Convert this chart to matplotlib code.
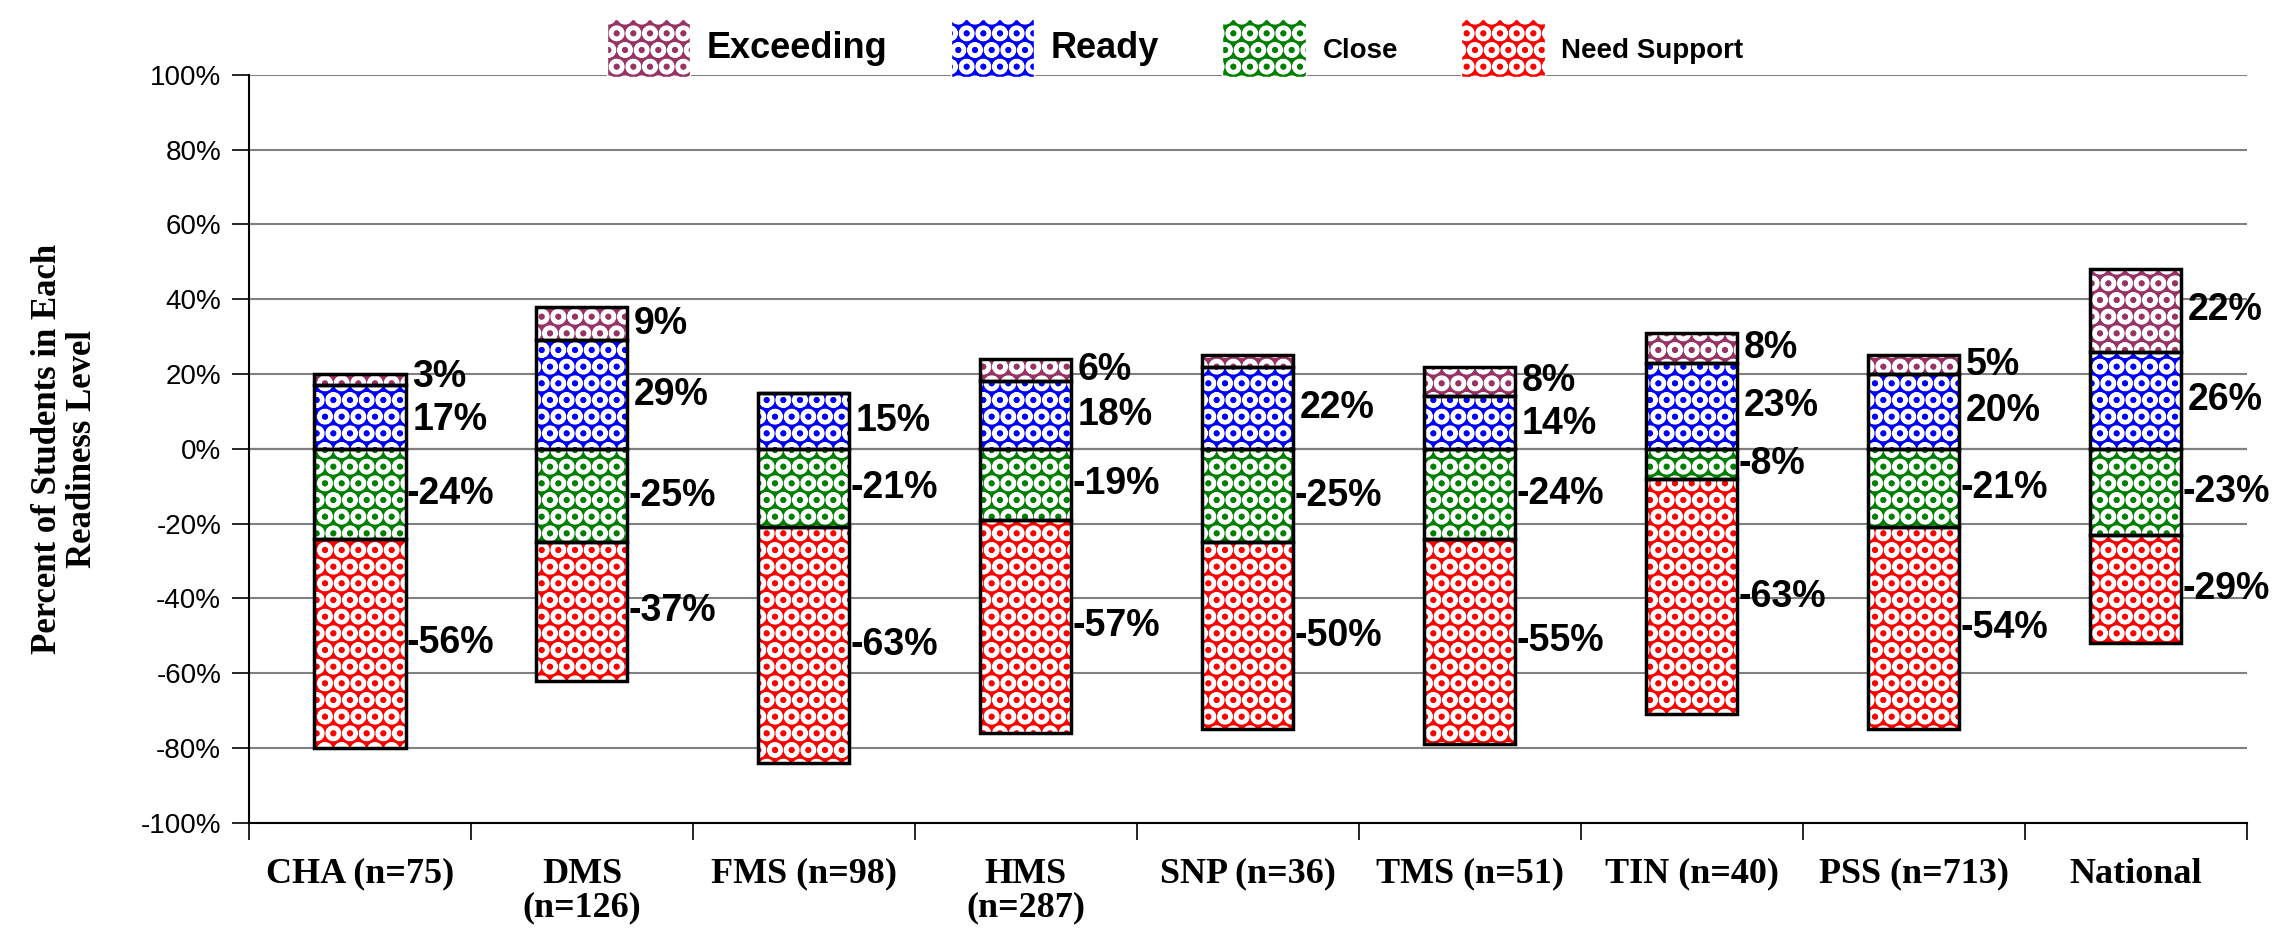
import numpy as np
import matplotlib.pyplot as plt
from matplotlib.patches import Patch

# datos
escuelas = ['CHA (n=75)', 'DMS\n(n=126)', 'FMS (n=98)', 'HMS\n(n=287)', 'SNP (n=36)',
            'TMS (n=51)', 'TIN (n=40)', 'PSS (n=713)', 'National']
exceeding = [3, 9, 0, 6, 3, 8, 8, 5, 22]
ready = [17, 29, 15, 18, 22, 14, 23, 20, 26]
close = [-24, -25, -21, -19, -25, -24, -8, -21, -23]
need_support = [-56, -37, -63, -57, -50, -55, -63, -54, -29]
# SNP no muestra etiqueta para Exceeding, FMS tampoco
mostrar_exceeding = [True, True, False, True, False, True, True, True, True]

colores = {'Exceeding': '#993366', 'Ready': '#0000ff', 'Close': '#008000', 'Need Support': '#ff0000'}
patron = 'O'
plt.rcParams['hatch.linewidth'] = 3.0

fig = plt.figure(figsize=(22.95, 9.35), dpi=100)
ax = fig.add_axes([0.1085, 0.12, 0.8705, 0.80])

x = np.arange(len(escuelas))
ancho = 0.41


def barra(x, alto, base, color):
    ax.bar(x, alto, ancho, bottom=base, color=color, edgecolor='white',
           hatch=patron, linewidth=0, zorder=2)
    ax.bar(x, alto, ancho, bottom=base, fill=False, edgecolor='black',
           linewidth=2.5, zorder=3)


ready_a = np.array(ready)
exc_a = np.array(exceeding)
close_a = np.array(close)
need_a = np.array(need_support)

barra(x, ready_a, 0, colores['Ready'])
barra(x, exc_a, ready_a, colores['Exceeding'])
barra(x, close_a, 0, colores['Close'])
barra(x, need_a, close_a, colores['Need Support'])

# etiquetas: centro del segmento, separadas si quedan muy juntas
separacion = 11.5
for i in range(len(escuelas)):
    etiquetas = []
    if mostrar_exceeding[i]:
        etiquetas.append([ready[i] + exceeding[i] / 2, exceeding[i]])
    etiquetas.append([ready[i] / 2, ready[i]])
    etiquetas.append([close[i] / 2, close[i]])
    etiquetas.append([close[i] + need_support[i] / 2, need_support[i]])
    for _ in range(20):
        for k in range(len(etiquetas) - 1):
            d = etiquetas[k][0] - etiquetas[k + 1][0]
            if d < separacion:
                m = (separacion - d) / 2
                etiquetas[k][0] += m
                etiquetas[k + 1][0] -= m
    for yy, v in etiquetas:
        dx = 0.005 if v < 0 else 0.03
        ax.text(x[i] + ancho / 2 + dx, yy, f'{v}%', ha='left', va='center',
                fontsize=27, fontweight='bold', family='Liberation Sans', zorder=4)

ax.set_xlim(-0.5, len(escuelas) - 0.5)
ax.set_ylim(-100, 100)
ax.set_yticks(np.arange(-100, 101, 20))
ax.set_yticklabels([f'{v}%' for v in range(-100, 101, 20)], family='Liberation Sans', fontsize=20)
ax.yaxis.grid(True, color='#808080', linewidth=1.5, zorder=0)
ax.axhline(0, color='black', linewidth=1.5, zorder=1)
ax.tick_params(axis='y', length=12, width=1.2, pad=8)

ax.set_xticks(x)
ax.set_xticklabels(escuelas, family='Liberation Serif', fontweight='bold', fontsize=26,
                   va='top', linespacing=1.05)
ax.set_xticks(np.arange(-0.5, len(escuelas)), minor=True)
ax.tick_params(axis='x', which='major', length=0, pad=25)
ax.tick_params(axis='x', which='minor', length=12, width=1.2)

for lado in ['top', 'right']:
    ax.spines[lado].set_visible(False)
ax.spines['left'].set_linewidth(1.5)
ax.spines['bottom'].set_linewidth(1.5)

ax.set_ylabel('Percent of Students in Each\nReadiness Level', family='Liberation Serif',
              fontweight='bold', fontsize=25, labelpad=30, linespacing=1.1)

handles = [Patch(facecolor=colores[n], edgecolor='white', hatch=patron, label=n)
           for n in ['Exceeding', 'Ready', 'Close', 'Need Support']]
leg = fig.legend(handles=handles, loc='upper center', bbox_to_anchor=(0.512, 1.012), ncol=4,
                 frameon=False, prop={'family': 'Liberation Sans', 'weight': 'bold', 'size': 24},
                 handlelength=2.5, handleheight=2.3, columnspacing=1.9, handletextpad=0.5)
for t, s in zip(leg.get_texts(), [26, 26, 20, 20]):
    t.set_fontsize(s)

fig.savefig('out.png', dpi=100)
